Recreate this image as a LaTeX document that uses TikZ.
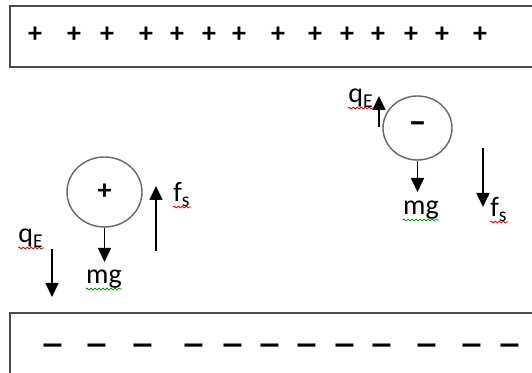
\documentclass[tikz,border=0pt]{standalone}
\usepackage{fontspec}
\setmainfont{Carlito}
\usetikzlibrary{arrows.meta}
\usetikzlibrary{shapes.geometric}
\usetikzlibrary{decorations.pathmorphing}

\tikzset{
  plate/.style={draw=black!70, line width=0.8pt},
  ball/.style={ellipse, draw=black!60, line width=0.7pt, inner sep=0pt},
  force/.style={line width=0.85pt, -{Triangle[width=6.5pt,length=7pt]}},
  charge/.style={font=\fontsize{14}{16}\selectfont\bfseries, inner sep=0pt},
  lbl/.style={font=\fontsize{14}{16}\selectfont, inner sep=0pt},
  spell/.style={red, line width=0.4pt, decorate,
    decoration={snake, amplitude=0.45pt, segment length=2pt}},
}

\begin{document}
\begin{tikzpicture}[x=0.5pt, y=-0.5pt]
    \useasboundingbox (0,0) rectangle (532,373);

    % draw the two plates
    \draw[plate] (532,6) -- (10,6) -- (10,67) -- (532,67);
    \draw[plate] (532,313) -- (10,313) -- (10,373);

    % draw charges on the plates
    \foreach \x [count=\i] in {35,74,107,146,177,209,239,278,315,347,378,411,442,480}
      \node[charge] (pos\i) at (\x,35) {+};
    \foreach \x [count=\i] in {53,97,143,194,233,270,307,345,382,427,472,510}
      \node[charge, font=\fontsize{25}{27}\selectfont] (neg\i) at (\x,352) {--};

    % left ball (positive)
    \node[ball, minimum width=37.5pt, minimum height=35pt] (ballL) at (104.5,192) {};
    \node[charge] (signL) at (ballL) {+};
    \coordinate (mgL) at (104.5,262);
    \draw[force] (ballL.south) -- (mgL);
    \coordinate (fsLa) at (156,251);
    \coordinate (fsLb) at (156,186);
    \draw[force] (fsLa) -- (fsLb);
    \coordinate (qLa) at (52,249);
    \coordinate (qLb) at (52,297);
    \draw[force] (qLa) -- (qLb);

    % right ball (negative)
    \node[ball, minimum width=34.5pt, minimum height=32pt] (ballR) at (417.5,128) {};
    \node[charge, font=\fontsize{18}{20}\selectfont\bfseries] (signR) at (ballR) {--};
    \coordinate (mgR) at (417.5,192);
    \draw[force] (ballR.south) -- (mgR);
    \coordinate (qRa) at (379,127);
    \coordinate (qRb) at (379,96);
    \draw[force] (qRa) -- (qRb);
    \coordinate (fsRa) at (483,148);
    \coordinate (fsRb) at (483,207);
    \draw[force] (fsRa) -- (fsRb);

    % draw labels
    \node[lbl, anchor=base west] (qL) at (18,243) {q\textsubscript{E}};
    \node[lbl, anchor=base west] (fsL) at (173,202) {f\textsubscript{s}};
    \node[lbl, anchor=base] (mgLl) at (104,284) {mg};
    \node[lbl, anchor=base west] (qR) at (348,103) {q\textsubscript{E}};
    \node[lbl, anchor=base west] (fsR) at (490,217) {f\textsubscript{s}};
    \node[lbl, anchor=base] (mgRl) at (421,215) {mg};

    % spelling marks
    \foreach \n in {qL,fsL,qR,fsR}
      \draw[spell] ([yshift=-2.5pt]\n.base west) -- ([yshift=-2.5pt]\n.base east);
    \foreach \n in {mgLl,mgRl}
      \draw[spell, green!60!black] ([yshift=-2.5pt]\n.base west) -- ([yshift=-2.5pt]\n.base east);
\end{tikzpicture}
\end{document}
